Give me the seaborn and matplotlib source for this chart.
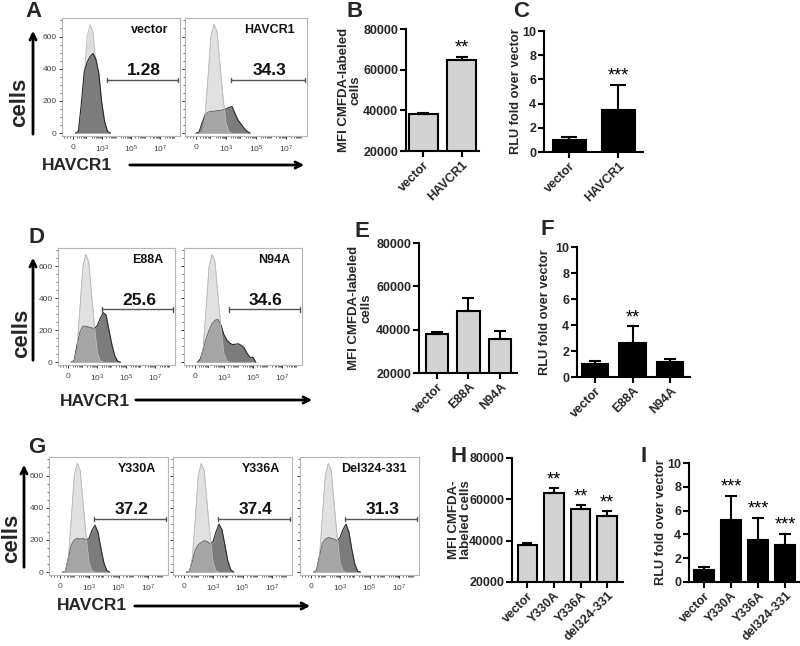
import numpy as np
import pandas as pd
import matplotlib
matplotlib.use("Agg")
import matplotlib.pyplot as plt
import seaborn as sns
from matplotlib.patches import FancyArrowPatch
from matplotlib.ticker import FixedLocator, MultipleLocator

# ---------------- data ----------------
# flow histograms: position on biexponential axis (0 -> "0", 1 -> 10^3, 2 -> 10^5, 3 -> 10^7)
U = [-0.2, -0.1, 0.0, 0.1, 0.2, 0.3, 0.4, 0.5, 0.6, 0.7, 0.8, 0.9, 1.0,
     1.1, 1.2, 1.3, 1.4, 1.5, 1.6, 1.7, 1.8, 1.9, 2.0, 2.1, 2.2]
CONTROL = [0, 0, 0, 0, 5, 90, 340, 600, 675, 630, 420, 220, 60,
           8, 0, 0, 0, 0, 0, 0, 0, 0, 0, 0, 0]
H_VECTOR = [0, 0, 0, 0, 10, 180, 380, 440, 475, 494, 460, 370, 190,
            70, 10, 0, 0, 0, 0, 0, 0, 0, 0, 0, 0]
H_HAVCR1 = [0, 0, 0, 5, 60, 110, 130, 135, 135, 140, 140, 145, 150,
            160, 165, 120, 80, 55, 30, 10, 0, 0, 0, 0, 0]
H_E88A = [0, 0, 0, 0, 10, 110, 190, 225, 225, 220, 215, 210, 230,
          275, 310, 295, 200, 110, 40, 5, 0, 0, 0, 0, 0]
H_N94A = [0, 0, 0, 0, 20, 80, 150, 200, 240, 262, 268, 235, 175,
          140, 120, 110, 112, 115, 105, 90, 55, 30, 30, 0, 0]
H_Y330A = [0, 0, 0, 0, 5, 90, 170, 200, 210, 205, 210, 200, 210,
           260, 292, 250, 150, 60, 10, 0, 0, 0, 0, 0, 0]
H_Y336A = [0, 0, 0, 0, 5, 70, 140, 170, 185, 195, 190, 175, 190,
           250, 298, 265, 170, 70, 15, 0, 0, 0, 0, 0, 0]
H_DEL = [0, 0, 0, 0, 10, 100, 180, 205, 215, 210, 205, 195, 215,
         265, 298, 250, 140, 50, 5, 0, 0, 0, 0, 0, 0]

SAMPLES_A = ["vector", "HAVCR1"]
GATES_A = ["1.28", "34.3"]
SAMPLES_D = ["E88A", "N94A"]
GATES_D = ["25.6", "34.6"]
SAMPLES_G = ["Y330A", "Y336A", "Del324-331"]
GATES_G = ["37.2", "37.4", "31.3"]
GATE_START = 1.17
GATE_END = 3.62
GATE_LEVEL = 330

HIST_XTICKS = [0, 1, 2, 3]
HIST_XTICKLABELS = ["0", "$10^3$", "$10^5$", "$10^7$"]
HIST_YTICKS = [0, 200, 400, 600]

# bar charts
CAT_B = ["vector", "HAVCR1"]
MFI_B = [38000, 65000]
MFI_B_ERR = [700, 1300]
STAR_B = ["", "**"]
RLU_C = [1.0, 3.5]
RLU_C_ERR = [0.22, 2.05]
STAR_C = ["", "***"]

CAT_E = ["vector", "E88A", "N94A"]
MFI_E = [38000, 48800, 35500]
MFI_E_ERR = [700, 5700, 4100]
STAR_E = ["", "", ""]
RLU_F = [1.0, 2.65, 1.15]
RLU_F_ERR = [0.25, 1.25, 0.27]
STAR_F = ["", "**", ""]

CAT_H = ["vector", "Y330A", "Y336A", "del324-331"]
MFI_H = [38000, 62900, 55200, 51900]
MFI_H_ERR = [900, 2400, 2000, 2400]
STAR_H = ["", "**", "**", "**"]
RLU_I = [1.0, 5.2, 3.55, 3.1]
RLU_I_ERR = [0.25, 2.05, 1.85, 0.95]
STAR_I = ["", "***", "***", "***"]

MFI_TICKS = [20000, 40000, 60000, 80000]
RLU_TICKS = [0, 2, 4, 6, 8, 10]

# ---------------- style ----------------
sns.set_theme(style="ticks", context="paper")
plt.rcParams["font.family"] = ["Liberation Sans", "DejaVu Sans"]
plt.rcParams["mathtext.default"] = "regular"
plt.rcParams["mathtext.fontset"] = "custom"
plt.rcParams["mathtext.rm"] = "Liberation Sans"
plt.rcParams["mathtext.it"] = "Liberation Sans"

W, H = 800, 646
fig = plt.figure(figsize=(W / 100, H / 100), dpi=100)


def px_axes(x0, y0, x1, y1):
    return fig.add_axes([x0 / W, 1 - y1 / H, (x1 - x0) / W, (y1 - y0) / H])


def outline(ax, y, color, lw, z):
    y = np.asarray(y, float)
    m = (y == 0) & (np.roll(y, 1) == 0) & (np.roll(y, -1) == 0)
    ax.plot(U, np.ma.masked_where(m, y), color=color, lw=lw, zorder=z)


MINOR_U = []
for d in range(1, 8):
    for mm in range(2, 10):
        MINOR_U.append((d + np.log10(mm) - 1) / 2)
MINOR_U = [v for v in MINOR_U if v < 3.65] + [-0.3, -0.2, -0.1]


def hist_panel(ax, dark, name, gate, ylabels, light_on_top=True):
    ax.fill_between(U, CONTROL, color="#dddddd", lw=0, zorder=1)
    outline(ax, CONTROL, "#b8b8b8", 0.6, 1.1)
    ax.fill_between(U, dark, color="#7c7c7c", lw=0, zorder=2)
    outline(ax, dark, "#2a2a2a", 0.8, 2.1)
    if light_on_top:
        ax.fill_between(U, CONTROL, color="#e8e8e8", alpha=0.38, lw=0, zorder=3)
        outline(ax, CONTROL, "#bcbcbc", 0.5, 3.1)
    ax.set_xlim(-0.36, 3.68)
    ax.set_ylim(-18, 715)
    # gate
    ax.plot([GATE_START, GATE_END], [GATE_LEVEL, GATE_LEVEL], color="#555555", lw=1.0, zorder=4)
    for gx in (GATE_START, GATE_END):
        ax.plot([gx, gx], [GATE_LEVEL - 14, GATE_LEVEL + 14], color="#555555", lw=1.0, zorder=4)
    ax.text((GATE_START + GATE_END) / 2 + 0.05, GATE_LEVEL + 28, gate, ha="center",
            va="baseline", fontsize=12.5, weight="bold", color="#111111")
    ax.text(0.9, 0.87, name, transform=ax.transAxes, ha="right", va="baseline",
            fontsize=9, weight="bold", color="#111111")
    ax.xaxis.set_major_locator(FixedLocator(HIST_XTICKS))
    ax.set_xticklabels(HIST_XTICKLABELS)
    ax.xaxis.set_minor_locator(FixedLocator(MINOR_U))
    ax.yaxis.set_major_locator(FixedLocator(HIST_YTICKS))
    ax.yaxis.set_minor_locator(MultipleLocator(50))
    if ylabels:
        ax.set_yticklabels([str(v) for v in HIST_YTICKS])
    else:
        ax.set_yticklabels([])
    ax.tick_params(axis="both", which="major", length=2.5, width=0.7, color="#333333",
                   labelsize=6, labelcolor="#444444", pad=1.5, direction="out")
    ax.tick_params(axis="both", which="minor", length=1.4, width=0.5, color="#333333", direction="out")
    ax.tick_params(axis="x", pad=3)
    for s in ax.spines.values():
        s.set_color("#b5b5b5")
        s.set_linewidth(0.8)
    ax.set_xlabel("")
    ax.set_ylabel("")


def bar_panel(ax, cats, vals, errs, stars, color, ylim, yticks, xlim, width, capsize,
              ylabel, label_px, label_size=9.5):
    n = len(cats)
    df = pd.DataFrame({"cat": cats, "val": vals})
    sns.barplot(data=df, x="cat", y="val", order=cats, ax=ax, color=color, saturation=1,
                edgecolor="black", linewidth=1.5, width=width, errorbar=None, zorder=2)
    ax.errorbar(np.arange(n), vals, yerr=[np.zeros(n), errs], fmt="none", ecolor="black",
                elinewidth=1.5, capsize=capsize, capthick=1.5, zorder=3)
    for i, st in enumerate(stars):
        if st:
            ax.annotate(st, (i, vals[i] + errs[i]), xytext=(0, 0), textcoords="offset points",
                        ha="center", va="bottom", fontsize=13, color="black")
    ax.set_ylim(*ylim)
    ax.set_xlim(*xlim)
    ax.set_yticks(yticks)
    ax.set_yticklabels([str(v) for v in yticks])
    sns.despine(ax=ax)
    for s in ("left", "bottom"):
        ax.spines[s].set_linewidth(1.5)
        ax.spines[s].set_color("black")
    ax.tick_params(axis="both", length=4, width=1.5, color="black", labelsize=9, pad=1.5)
    ax.set_xlabel("")
    ax.set_ylabel("")
    lines = ylabel.split("\n")
    nl = len(lines)
    for j, line in enumerate(lines):
        dx = -label_px + (j - (nl - 1) / 2) * 12
        ax.annotate(line, xy=(0, 0.5), xycoords="axes fraction", xytext=(dx * 0.72, 0),
                    textcoords="offset points", rotation=90, ha="center", va="center",
                    fontsize=label_size, weight="bold")
    ax.set_xticks(range(n))
    ax.set_xticklabels(cats, rotation=45, ha="right", rotation_mode="anchor")
    for lab in ax.get_xticklabels() + ax.get_yticklabels():
        lab.set_fontweight("bold")


# ---------------- histograms ----------------
hist_rows = [
    ([(62, 18, 180, 136), (185, 18, 307, 136)], [H_VECTOR, H_HAVCR1], SAMPLES_A, GATES_A, [False, True]),
    ([(58, 248, 175, 365), (184, 248, 302, 365)], [H_E88A, H_N94A], SAMPLES_D, GATES_D, [True, True]),
    ([(49, 457, 168, 575), (173, 457, 292, 575), (300, 457, 419, 575)],
     [H_Y330A, H_Y336A, H_DEL], SAMPLES_G, GATES_G, [True, True, True]),
]
for rects, darks, names, gates, ontop in hist_rows:
    for k, (r, dk, nm, gt, ot) in enumerate(zip(rects, darks, names, gates, ontop)):
        ax = px_axes(*r)
        hist_panel(ax, dk, nm, gt, ylabels=(k == 0), light_on_top=ot)

# ---------------- bar charts ----------------
GRAY = "#d3d3d3"
MFI_LABEL = "MFI CMFDA-labeled\ncells"
RLU_LABEL = "RLU fold over vector"

axB = px_axes(406, 29, 479, 151)
bar_panel(axB, CAT_B, MFI_B, MFI_B_ERR, STAR_B, GRAY, (20000, 80000), MFI_TICKS,
          (-0.46, 1.46), 0.75, 4.5, MFI_LABEL, 56)
axC = px_axes(544, 31, 643, 152)
bar_panel(axC, CAT_B, RLU_C, RLU_C_ERR, STAR_C, "black", (0, 10), RLU_TICKS,
          (-0.52, 1.5), 0.69, 6, RLU_LABEL, 28, 9.2)
axE = px_axes(419, 243, 517, 373)
bar_panel(axE, CAT_E, MFI_E, MFI_E_ERR, STAR_E, GRAY, (20000, 80000), MFI_TICKS,
          (-0.57, 2.54), 0.7, 4, MFI_LABEL, 59)
axF = px_axes(577, 247, 690, 377)
bar_panel(axF, CAT_E, RLU_F, RLU_F_ERR, STAR_F, "black", (0, 10), RLU_TICKS,
          (-0.48, 2.53), 0.7, 4.5, RLU_LABEL, 32, 9.2)
axH = px_axes(512, 458, 623, 582)
bar_panel(axH, CAT_H, MFI_H, MFI_H_ERR, STAR_H, GRAY, (20000, 80000), MFI_TICKS,
          (-0.58, 3.6), 0.74, 3.5, "MFI CMFDA-\nlabeled cells", 52)
axI = px_axes(689, 463, 800, 582)
bar_panel(axI, CAT_H, RLU_I, RLU_I_ERR, STAR_I, "black", (0, 10), RLU_TICKS,
          (-0.55, 3.55), 0.74, 4, RLU_LABEL, 28, 9.2)


# ---------------- figure annotations ----------------
def ftext(x, y, s, **kw):
    fig.text(x / W, 1 - y / H, s, **kw)


for letter, lx, ly in [("A", 25, 17), ("B", 347, 17), ("C", 513, 17),
                       ("D", 28, 243), ("E", 355, 237), ("F", 540, 235),
                       ("G", 28, 453), ("H", 450, 462), ("I", 640, 462)]:
    ftext(lx, ly, letter, fontsize=16, weight="bold", ha="left", va="baseline")

for cx, cy in [(20, 102), (22, 333), (12, 538)]:
    ftext(cx, cy, "cells", fontsize=16, weight="bold", rotation=90, ha="center", va="center")

for tx, ty in [(42, 165), (60, 402), (57, 606)]:
    ftext(tx, ty, "HAVCR1", fontsize=12.5, weight="bold", ha="left", va="center")


def farrow(x0, y0, x1, y1):
    a = FancyArrowPatch((x0 / W, 1 - y0 / H), (x1 / W, 1 - y1 / H), transform=fig.transFigure,
                        arrowstyle="->", mutation_scale=11, lw=2.0, color="black")
    fig.add_artist(a)


farrow(33, 137, 33, 28)
farrow(33, 363, 33, 255)
farrow(24, 570, 24, 462)
farrow(127, 165, 307, 165)
farrow(133, 400, 315, 400)
farrow(132, 606, 313, 606)

fig.savefig("out.png", dpi=100)
